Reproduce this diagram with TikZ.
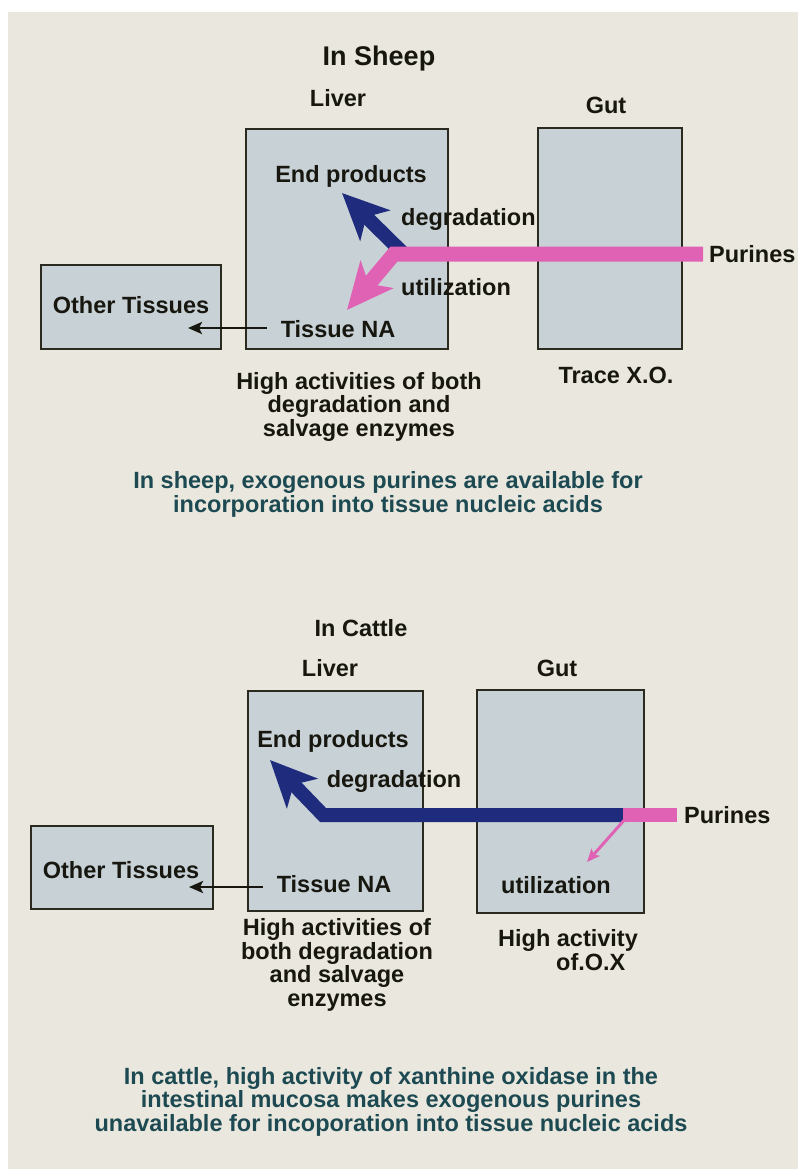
\documentclass[tikz,border=0pt]{standalone}
\usepackage{fontspec}
\setmainfont{Liberation Sans}
\usetikzlibrary{arrows.meta}
\definecolor{paper}{HTML}{EAE8DE}
\definecolor{organfill}{HTML}{C7D1D6}
\definecolor{rim}{HTML}{2A2A1E}
\definecolor{ink}{HTML}{17170F}
\definecolor{note}{HTML}{1D4A52}
\definecolor{purine}{HTML}{E062B4}
\definecolor{navy}{HTML}{1F2B7C}
\tikzset{
  organ/.style={draw=rim, fill=organfill, line width=2pt, inner sep=0pt},
  lbl/.style={font=\bfseries\fontsize{23.5}{23.5}\selectfont, text=ink, inner sep=0pt, anchor=base, align=center},
  title/.style={lbl, font=\bfseries\fontsize{27}{27}\selectfont},
  caption/.style={lbl, text=note},
  pinkflow/.style={draw=purine, line width=15pt, -{Stealth[length=46pt,width=42pt,inset=12pt]}},
  pinkbar/.style={draw=purine, line width=14pt},
  blueflow/.style={draw=navy, line width=14pt, -{Stealth[length=46pt,width=42pt,inset=12pt]}},
  thinpink/.style={draw=purine, line width=3pt, -{Stealth[length=13pt,width=11pt,inset=3pt]}},
  export/.style={draw=ink, line width=2.5pt, -{Stealth[length=14pt,width=12pt,inset=3pt]}}
}
\begin{document}
\begin{tikzpicture}[x=1pt,y=-1pt]
\useasboundingbox (0,0) rectangle (798,1172);
\fill[white] (0,0) rectangle (798,1172);
\fill[paper] (8,12) rectangle (798,1169);

% ---------------- sheep ----------------
% (multi-line nodes are placed by the baseline of their last line)
\node[title] (sheepT) at (379,66) {In Sheep};
\node[lbl] (liverSL) at (338,106) {Liver};
\node[lbl] (gutSL) at (606,113) {Gut};
\node[organ, minimum width=202pt, minimum height=220pt] (liverS) at (347,239) {};
\node[organ, minimum width=144pt, minimum height=221pt] (gutS) at (610,238.5) {};
\node[organ, minimum width=180pt, minimum height=84pt] (otherS) at (131,307) {};
\node[lbl] (otherST) at (131,313) {Other Tissues};
\node[lbl] (endS) at (351,182) {End products};
\node[lbl, anchor=base west] (degS) at (401,225) {degradation};
\node[lbl, anchor=base west] (utilS) at (401,295) {utilization};
\node[lbl, anchor=base west] (purS) at (709,262) {Purines};
\node[lbl] (tnaS) at (338,337) {Tissue NA};
\node[lbl] (traceS) at (616,383) {Trace X.O.};
\node[lbl] (enzS) at (359,436) {High activities of both\\degradation and\\salvage enzymes};
\node[caption] (capS) at (388,512) {In sheep, exogenous purines are available for\\incorporation into tissue nucleic acids};

\coordinate (forkS) at (394,254);
\coordinate (endTipS) at (342,193);
\coordinate (tnaTipS) at (347,310);
\coordinate (otherTipS) at (188,328);
\draw[blueflow] (404,254) -- (endTipS);
\draw[pinkflow] (purS.west |- forkS) ++(-6,0) -- (forkS) -- (tnaTipS);
\draw[export] (tnaS.west |- otherTipS) ++(-14,0) -- (otherTipS);

% ---------------- cattle ----------------
\node[lbl] (cattleT) at (361,636) {In Cattle};
\node[lbl] (liverCL) at (330,676) {Liver};
\node[lbl] (gutCL) at (557,676) {Gut};
\node[organ, minimum width=175pt, minimum height=220pt] (liverC) at (335.5,801) {};
\node[organ, minimum width=167pt, minimum height=223pt] (gutC) at (560.5,801.5) {};
\node[organ, minimum width=182pt, minimum height=83pt] (otherC) at (122,867.5) {};
\node[lbl] (otherCT) at (121,878) {Other Tissues};
\node[lbl] (endC) at (333,747) {End products};
\node[lbl] (degC) at (394,787) {degradation};
\node[lbl, anchor=base west] (purC) at (684,823) {Purines};
\node[lbl] (tnaC) at (334,892) {Tissue NA};
\node[lbl] (utilC) at (556,893) {utilization};
\node[lbl] (enzC) at (337,1006) {High activities of\\both degradation\\and salvage\\enzymes};
\node[lbl, align=left] (xoC) at (568,970) {High activity\\\hspace*{58pt}of.O.X};
\node[caption] (capC) at (391,1131) {In cattle, high activity of xanthine oxidase in the\\intestinal mucosa makes exogenous purines\\unavailable for incoporation into tissue nucleic acids};

\coordinate (forkC) at (623,815);
\coordinate (bendC) at (323,815);
\coordinate (endTipC) at (270,760);
\coordinate (gutTipC) at (587,862);
\coordinate (otherTipC) at (189,887);
\draw[blueflow] (forkC) -- (bendC) -- (endTipC);
\draw[pinkbar] (purC.west |- forkC) ++(-7,0) -- (forkC);
\draw[thinpink] (627,817) -- (gutTipC);
\draw[export] (tnaC.west |- otherTipC) ++(-14,0) -- (otherTipC);
\end{tikzpicture}
\end{document}
